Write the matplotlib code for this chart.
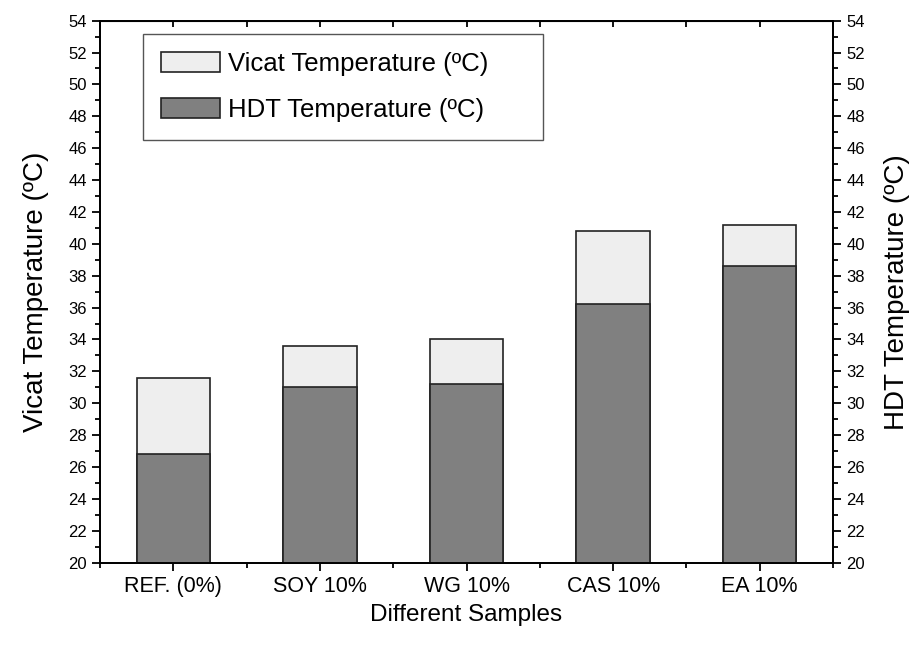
import matplotlib
matplotlib.use("Agg")
import matplotlib.pyplot as plt
import numpy as np
from matplotlib.ticker import MultipleLocator, FixedLocator

plt.rcParams['font.family'] = ['Liberation Sans', 'DejaVu Sans']

samples = ['REF. (0%)', 'SOY 10%', 'WG 10%', 'CAS 10%', 'EA 10%']
vicat = [31.6, 33.6, 34.0, 40.8, 41.2]
hdt = [26.8, 31.0, 31.2, 36.2, 38.6]

x = np.arange(1, len(samples) + 1)
base = 20

fig = plt.figure(figsize=(9.21, 6.46), dpi=100)
ax = fig.add_axes([0.1086, 0.129, 0.7959, 0.839])

ax.bar(x, np.array(vicat) - base, bottom=base, width=0.5, color='#eeeeee',
       edgecolor='#222222', linewidth=1.2, label='Vicat Temperature (ºC)', zorder=2)
ax.bar(x, np.array(hdt) - base, bottom=base, width=0.5, color='#808080',
       edgecolor='#222222', linewidth=1.2, label='HDT Temperature (ºC)', zorder=3)

ax.set_xlim(0.5, 5.5)
ax.set_ylim(20, 54)
ax.set_xticks(x)
ax.set_xticklabels(samples, fontsize=15.5)
ax.xaxis.set_minor_locator(FixedLocator(np.arange(0.5, 5.6, 1.0)))
ax.yaxis.set_major_locator(MultipleLocator(2))
ax.yaxis.set_minor_locator(MultipleLocator(1))
ax.tick_params(axis='y', labelsize=12)
ax.tick_params(which='major', direction='out', length=6, width=1.3)
ax.tick_params(which='minor', direction='out', length=3.5, width=1.3)
ax.tick_params(axis='x', which='both', top=False)

for s in ax.spines.values():
    s.set_linewidth(1.3)

ax.set_xlabel('Different Samples', fontsize=17.5, labelpad=5)
ax.set_ylabel('Vicat Temperature (ºC)', fontsize=20, labelpad=14)

# top ticks point inward
top = ax.secondary_xaxis('top')
top.set_xticks(np.arange(0.5, 5.6, 0.5))
top.tick_params(direction='in', length=4, width=1.3, labeltop=False)
top.set_xticklabels([])

ax2 = ax.twinx()
ax2.set_ylim(20, 54)
ax2.yaxis.set_major_locator(MultipleLocator(2))
ax2.yaxis.set_minor_locator(MultipleLocator(1))
ax2.tick_params(which='major', direction='out', length=6, width=1.3, labelsize=12)
ax2.tick_params(which='minor', direction='out', length=3.5, width=1.3)
ax2.set_ylabel('HDT Temperature (ºC)', fontsize=20, labelpad=14)
for s in ax2.spines.values():
    s.set_linewidth(1.3)

leg = ax.legend(loc='upper left', bbox_to_anchor=(0.0587, 0.9755, 0.545, 0.0),
                mode='expand', borderaxespad=0,
                fontsize=18.5, handlelength=2.3, handleheight=0.85, fancybox=False,
                edgecolor='#555555', framealpha=1, borderpad=0.7,
                labelspacing=0.85, handletextpad=0.3)
leg.get_frame().set_linewidth(1.0)

fig.savefig('out.png', dpi=100)
